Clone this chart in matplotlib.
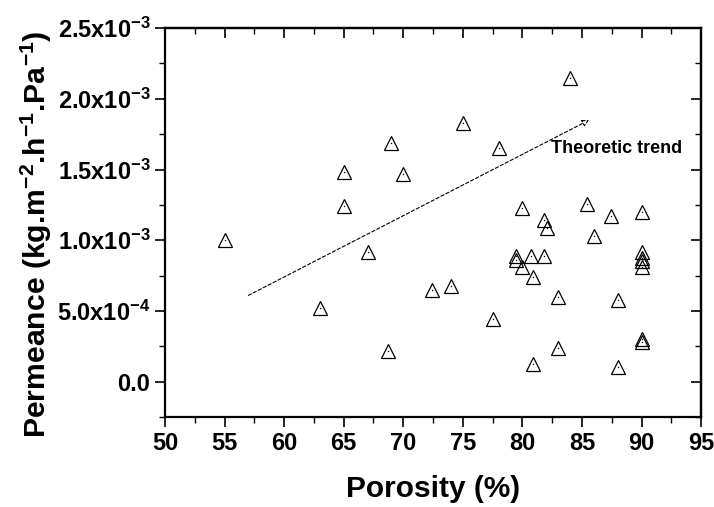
import matplotlib
matplotlib.use("Agg")
import matplotlib.pyplot as plt
from matplotlib.ticker import MultipleLocator, FixedLocator, FixedFormatter

plt.rcParams['font.family'] = ['Liberation Sans', 'DejaVu Sans']
plt.rcParams['font.weight'] = 'bold'
plt.rcParams['mathtext.fontset'] = 'custom'
plt.rcParams['mathtext.rm'] = 'Liberation Sans:bold'
plt.rcParams['mathtext.it'] = 'Liberation Sans:bold'
plt.rcParams['mathtext.bf'] = 'Liberation Sans:bold'
plt.rcParams['axes.unicode_minus'] = False

# Data (porosity %, permeance kg.m-2.h-1.Pa-1)
porosity = [84.0, 75.0, 69.0, 78.0, 65.0, 70.0, 65.0, 55.0, 80.0, 85.4,
            87.4, 90.0, 81.8, 82.1, 86.0, 67.0, 63.0, 68.7, 72.4, 74.0,
            77.5, 79.5, 79.5, 80.0, 80.7, 81.85, 80.9, 83.0, 88.0, 80.9,
            83.0, 88.0, 90.0, 90.0, 90.0, 90.0, 90.0, 90.0]
permeance = [2.15e-3, 1.83e-3, 1.69e-3, 1.65e-3, 1.48e-3, 1.47e-3, 1.24e-3, 1.0e-3, 1.23e-3, 1.255e-3,
             1.17e-3, 1.20e-3, 1.14e-3, 1.09e-3, 1.03e-3, 0.915e-3, 0.52e-3, 0.22e-3, 0.65e-3, 0.675e-3,
             0.44e-3, 0.89e-3, 0.86e-3, 0.81e-3, 0.89e-3, 0.89e-3, 0.74e-3, 0.60e-3, 0.58e-3, 0.125e-3,
             0.235e-3, 0.105e-3, 0.92e-3, 0.875e-3, 0.85e-3, 0.81e-3, 0.30e-3, 0.28e-3]

trend_start = (57.0, 0.61e-3)
trend_end = (85.6, 1.85e-3)
trend_label = "Theoretic trend"

xticks = [50, 55, 60, 65, 70, 75, 80, 85, 90, 95]
yticks = [0.0, 0.5e-3, 1.0e-3, 1.5e-3, 2.0e-3, 2.5e-3]
ytick_labels = ["0.0", r"5.0x10$^{-4}$", r"1.0x10$^{-3}$", r"1.5x10$^{-3}$",
                r"2.0x10$^{-3}$", r"2.5x10$^{-3}$"]

fig = plt.figure(figsize=(7.14, 5.07), dpi=100)
ax = fig.add_axes([0.231, 0.1775, 0.751, 0.767])

ax.plot(porosity, permeance, linestyle='none', marker='^', markersize=10,
        markerfacecolor='none', markeredgecolor='black', markeredgewidth=0.9)
ax.plot(porosity, permeance, linestyle='none', marker='o', markersize=1,
        markerfacecolor='black', markeredgecolor='none')

ax.annotate("", xy=trend_end, xytext=trend_start,
            arrowprops=dict(arrowstyle='-|>', linestyle=(0, (3, 2)), lw=0.8,
                            color='black', fc='white', mutation_scale=10,
                            shrinkA=0, shrinkB=0))
ax.text(82.4, 1.65e-3, trend_label, fontsize=13, fontweight='bold', va='center', ha='left')

ax.set_xlim(50, 95)
ax.set_ylim(-0.25e-3, 2.5e-3)
ax.xaxis.set_major_locator(FixedLocator(xticks))
ax.xaxis.set_minor_locator(MultipleLocator(2.5))
ax.yaxis.set_major_locator(FixedLocator(yticks))
ax.yaxis.set_major_formatter(FixedFormatter(ytick_labels))
ax.yaxis.set_minor_locator(MultipleLocator(0.25e-3))

for s in ax.spines.values():
    s.set_linewidth(1.6)

ax.tick_params(axis='both', which='major', labelsize=17, width=1.2, length=7, direction='out')
ax.tick_params(axis='both', which='minor', width=1.0, length=4, direction='out')

# top/right inward ticks (Origin style)
axt = ax.secondary_xaxis('top')
axt.xaxis.set_major_locator(FixedLocator(xticks))
axt.xaxis.set_minor_locator(MultipleLocator(2.5))
axt.tick_params(which='major', direction='in', length=7, width=1.2, labeltop=False)
axt.tick_params(which='minor', direction='in', length=4, width=1.0)
axt.set_xticklabels([])
axr = ax.secondary_yaxis('right')
axr.yaxis.set_major_locator(FixedLocator(yticks))
axr.yaxis.set_minor_locator(MultipleLocator(0.25e-3))
axr.tick_params(which='major', direction='in', length=7, width=1.2)
axr.tick_params(which='minor', direction='in', length=4, width=1.0)
axr.set_yticklabels([])
for a in (axt, axr):
    for s in a.spines.values():
        s.set_linewidth(1.6)

for lbl in ax.get_xticklabels() + ax.get_yticklabels():
    lbl.set_fontweight('bold')

ax.set_xlabel("Porosity (%)", fontsize=21.5, fontweight='bold', labelpad=15)
fig.text(36 / 714, 1 - 234 / 507, r"Permeance (kg.m$^{-2}$.h$^{-1}$.Pa$^{-1}$)",
         fontsize=21.7, fontweight='bold', rotation=90, ha='center', va='center')

fig.savefig("out.png", dpi=100)
